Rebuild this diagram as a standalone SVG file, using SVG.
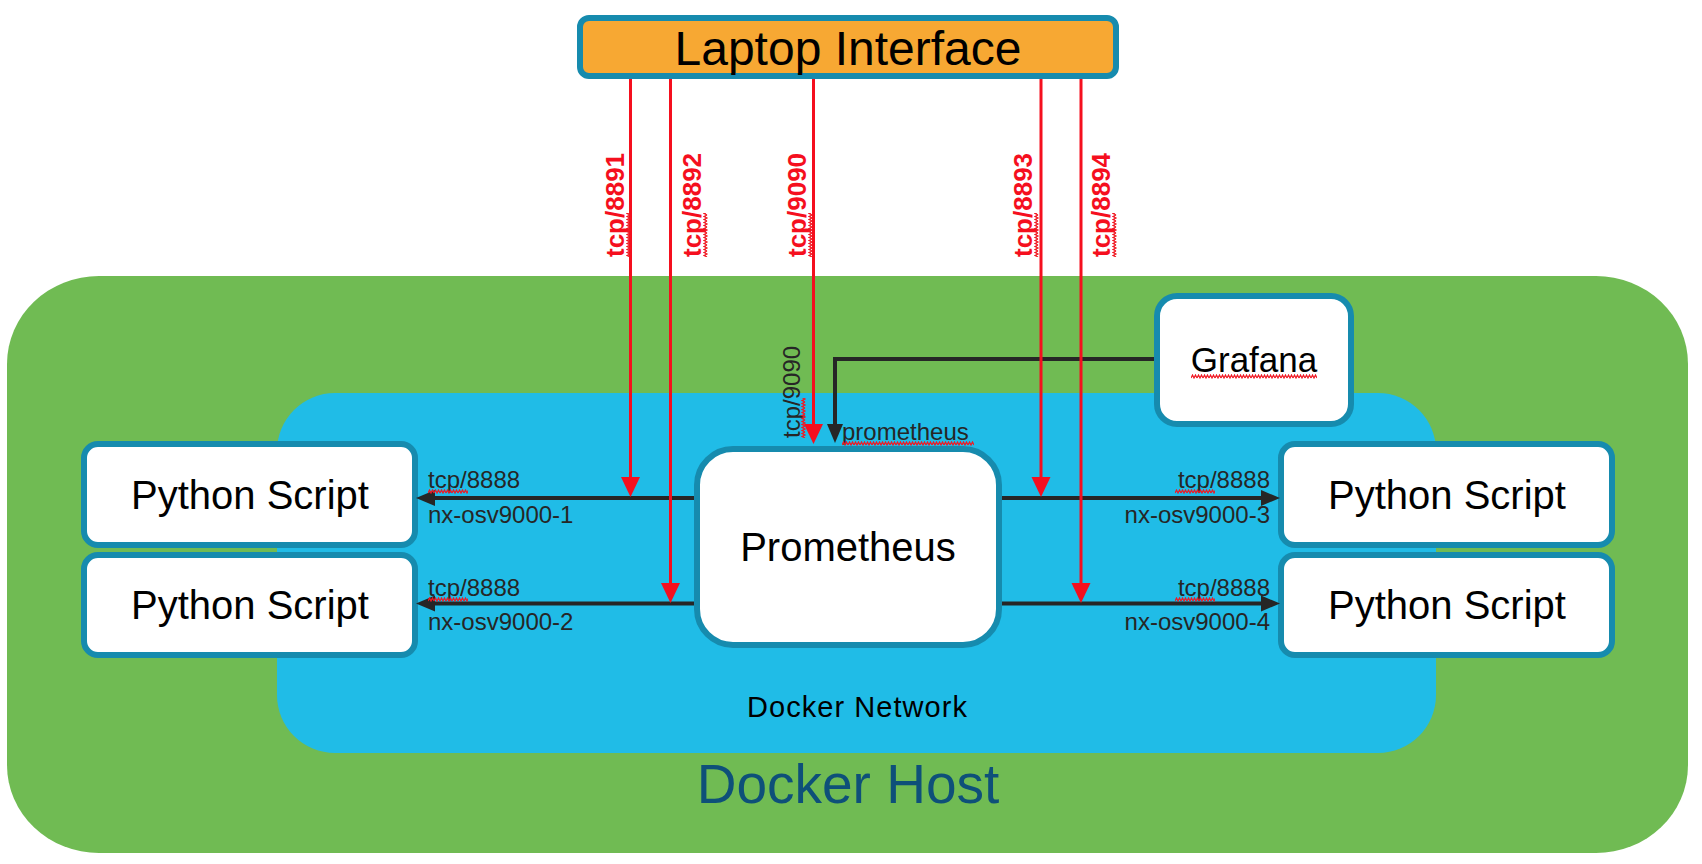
<svg xmlns="http://www.w3.org/2000/svg" width="1702" height="864" viewBox="0 0 1702 864">
<style>
.box{fill:#fff;stroke:#168BAE;stroke-width:6}
.t{font-family:"Liberation Sans",Arial,sans-serif;fill:#000}
.big{font-size:40px;text-anchor:middle}
.lbl{font-family:"Liberation Sans",Arial,sans-serif;font-size:24px;fill:#262626}
.rl{font-family:"Liberation Sans",Arial,sans-serif;font-size:26px;font-weight:bold;fill:#F50F1E}
.red{stroke:#F50F1E;stroke-width:3;fill:none}
.blk{stroke:#262626;stroke-width:4;fill:none}
.sq{fill:url(#sqp)}
</style>
<defs>
<marker id="ar" markerUnits="userSpaceOnUse" markerWidth="20" markerHeight="20" refX="0" refY="9.5" orient="auto" overflow="visible">
<path d="M0,0 L20,9.5 L0,19 z" fill="#F50F1E"/>
</marker>
<marker id="ab" markerUnits="userSpaceOnUse" markerWidth="20" markerHeight="16" refX="0" refY="8" orient="auto" overflow="visible">
<path d="M0,0 L19,8 L0,16 z" fill="#262626"/>
</marker>
<pattern id="sqp" patternUnits="userSpaceOnUse" width="6" height="5">
<path d="M0,4 L1.5,1 L3,4 L4.5,1 L6,4" stroke="#F01822" stroke-width="1.2" fill="none"/>
</pattern>
</defs>

<g id="docker-host">
<rect x="7" y="276" width="1681" height="577" rx="92" ry="88" fill="#70BB53"/>
<text class="t" x="848" y="803" font-size="55" text-anchor="middle" style="fill:#0E5079">Docker Host</text>
</g>

<g id="docker-network">
<rect x="277" y="393" width="1159" height="360" rx="58" fill="#20BCE7"/>
<text class="t" x="747" y="717" font-size="29" textLength="220" lengthAdjust="spacing">Docker Network</text>
</g>

<g id="laptop">
<rect x="580" y="18" width="536" height="58" rx="9" fill="#F7A833" stroke="#168BAE" stroke-width="6"/>
<text class="t" x="848" y="65" font-size="48" text-anchor="middle">Laptop Interface</text>
</g>

<g id="grafana">
<rect class="box" x="1157" y="296" width="194" height="128" rx="20"/>
<text class="t" x="1254" y="372" font-size="35" text-anchor="middle">Grafana</text>
<rect class="sq" x="0" y="0" width="126" height="5" transform="translate(1191,374)"/>
</g>

<g id="prometheus">
<rect class="box" x="697" y="449" width="302" height="196" rx="36"/>
<text class="t big" x="848" y="561">Prometheus</text>
</g>

<g id="python-1">
<rect class="box" x="84" y="444" width="331" height="101" rx="14"/>
<text class="t big" x="250" y="509">Python Script</text>
</g>
<g id="python-2">
<rect class="box" x="84" y="555" width="331" height="100" rx="14"/>
<text class="t big" x="250" y="619">Python Script</text>
</g>
<g id="python-3">
<rect class="box" x="1281" y="444" width="331" height="101" rx="14"/>
<text class="t big" x="1447" y="509">Python Script</text>
</g>
<g id="python-4">
<rect class="box" x="1281" y="555" width="331" height="100" rx="14"/>
<text class="t big" x="1447" y="619">Python Script</text>
</g>

<g id="connectors">
<path class="blk" d="M694,498 H435" marker-end="url(#ab)"/>
<path class="blk" d="M694,603.5 H435" marker-end="url(#ab)"/>
<path class="blk" d="M1002,498 H1261" marker-end="url(#ab)"/>
<path class="blk" d="M1002,603.5 H1261" marker-end="url(#ab)"/>
<path class="blk" d="M1154,359 H835 V424" marker-end="url(#ab)"/>
<path class="red" d="M630.5,79 V477" marker-end="url(#ar)"/>
<path class="red" d="M670.5,79 V583" marker-end="url(#ar)"/>
<path class="red" d="M813.5,79 V424" marker-end="url(#ar)"/>
<path class="red" d="M1041,79 V477" marker-end="url(#ar)"/>
<path class="red" d="M1081,79 V583" marker-end="url(#ar)"/>

<text class="lbl" x="428" y="488">tcp/8888</text>
<rect class="sq" x="0" y="0" width="40" height="5" transform="translate(428,489)"/>
<text class="lbl" x="428" y="523">nx-osv9000-1</text>
<text class="lbl" x="428" y="596">tcp/8888</text>
<rect class="sq" x="0" y="0" width="40" height="5" transform="translate(428,597)"/>
<text class="lbl" x="428" y="630">nx-osv9000-2</text>
<text class="lbl" x="1270" y="488" text-anchor="end">tcp/8888</text>
<rect class="sq" x="0" y="0" width="40" height="5" transform="translate(1175,489)"/>
<text class="lbl" x="1270" y="523" text-anchor="end">nx-osv9000-3</text>
<text class="lbl" x="1270" y="596" text-anchor="end">tcp/8888</text>
<rect class="sq" x="0" y="0" width="40" height="5" transform="translate(1175,597)"/>
<text class="lbl" x="1270" y="630" text-anchor="end">nx-osv9000-4</text>

<text class="lbl" transform="translate(800,438) rotate(-90)">tcp/9090</text>
<rect class="sq" x="0" y="0" width="40" height="5" transform="translate(801,438) rotate(-90)"/>
<text class="lbl" x="842" y="440">prometheus</text>
<rect class="sq" x="0" y="0" width="132" height="5" transform="translate(842,441)"/>

<text class="rl" transform="translate(624,257) rotate(-90)">tcp/8891</text>
<rect class="sq" x="0" y="0" width="44" height="5" transform="translate(626,257) rotate(-90)"/>
<text class="rl" transform="translate(701,257) rotate(-90)">tcp/8892</text>
<rect class="sq" x="0" y="0" width="44" height="5" transform="translate(703,257) rotate(-90)"/>
<text class="rl" transform="translate(806,257) rotate(-90)">tcp/9090</text>
<rect class="sq" x="0" y="0" width="44" height="5" transform="translate(808,257) rotate(-90)"/>
<text class="rl" transform="translate(1032,257) rotate(-90)">tcp/8893</text>
<rect class="sq" x="0" y="0" width="44" height="5" transform="translate(1034,257) rotate(-90)"/>
<text class="rl" transform="translate(1110,257) rotate(-90)">tcp/8894</text>
<rect class="sq" x="0" y="0" width="44" height="5" transform="translate(1112,257) rotate(-90)"/>
</g>
</svg>
